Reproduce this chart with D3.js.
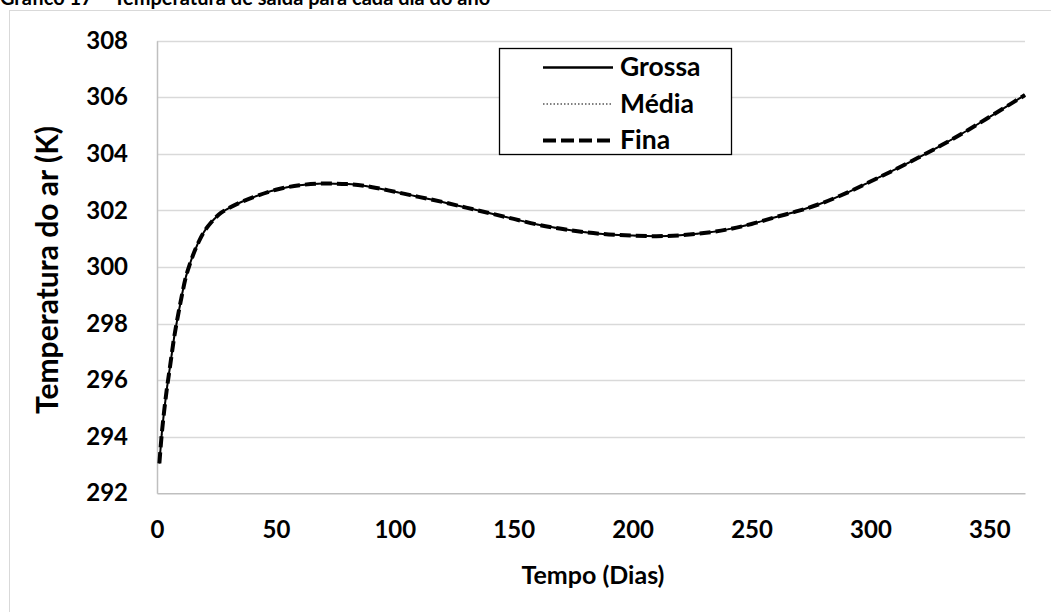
<!DOCTYPE html>
<html>
<head>
<meta charset="utf-8">
<script src="https://cdn.jsdelivr.net/npm/d3@7"></script>
<style>
  html, body { margin: 0; padding: 0; background: #fff; }
  svg { display: block; font-family: Lato, "Open Sans", sans-serif; }
</style>
</head>
<body>
<svg id="chart" width="1051" height="612"></svg>
<script>
// ---- data ----
const days = [1,2,3,4,5,6,7,8,10,12,14,16,18,20,23,27,30,35,40,50,60,70,80,90,100,110,120,130,140,150,160,170,180,190,200,210,220,230,240,250,260,270,280,290,300,310,320,330,340,350,360,365];
const grossa = [293.06,294.1,294.9,295.6,296.2,296.8,297.4,297.9,298.8,299.6,300.15,300.6,300.97,301.27,301.6,301.92,302.07,302.28,302.45,302.73,302.89,302.95,302.93,302.83,302.66,302.48,302.3,302.1,301.9,301.7,301.5,301.35,301.23,301.15,301.11,301.09,301.12,301.2,301.33,301.52,301.76,301.99,302.27,302.62,303.02,303.43,303.86,304.31,304.79,305.3,305.82,306.08];
const media  = [293.06,294.1,294.9,295.6,296.2,296.8,297.4,297.9,298.8,299.6,300.15,300.6,300.97,301.27,301.6,301.92,302.07,302.28,302.45,302.73,302.89,302.95,302.93,302.83,302.66,302.48,302.3,302.1,301.9,301.7,301.5,301.35,301.23,301.15,301.11,301.09,301.12,301.2,301.33,301.52,301.76,301.99,302.27,302.62,303.02,303.43,303.86,304.31,304.79,305.3,305.82,306.08];
const fina   = [293.06,294.1,294.9,295.6,296.2,296.8,297.4,297.9,298.8,299.6,300.15,300.6,300.97,301.27,301.6,301.92,302.07,302.28,302.45,302.73,302.89,302.95,302.93,302.83,302.66,302.48,302.3,302.1,301.9,301.7,301.5,301.35,301.23,301.15,301.11,301.09,301.12,301.2,301.33,301.52,301.76,301.99,302.27,302.62,303.02,303.43,303.86,304.31,304.79,305.3,305.82,306.08];
const seriesNames = ["Grossa", "Média", "Fina"];
const xTicks = [0,50,100,150,200,250,300,350];
const yTicks = [292,294,296,298,300,302,304,306,308];
const titleText = "Gráfico 17 – Temperatura de saída para cada dia do ano";
const xTitle = "Tempo (Dias)";
const yTitle = "Temperatura do ar (K)";

// ---- layout ----
const svg = d3.select("#chart");
const plot = { left: 157, right: 1025, top: 40.7, bottom: 493.3 };
const x = d3.scaleLinear().domain([0, 365]).range([plot.left, plot.right]);
const y = d3.scaleLinear().domain([292, 308]).range([plot.bottom, plot.top]);

// outer chart border
svg.append("rect")
  .attr("x", 9.5).attr("y", 10.5).attr("width", 1100).attr("height", 700)
  .attr("fill", "#fff").attr("stroke", "#d9d9d9").attr("stroke-width", 1);

// title (sits at the very top edge, as in the reference)
svg.append("text")
  .attr("x", 0).attr("y", 5)
  .attr("font-size", 20).attr("font-weight", "bold").attr("fill", "#000")
  .text(titleText);

// gridlines
svg.append("g").selectAll("line").data(yTicks.filter(d => d !== 292)).join("line")
  .attr("x1", plot.left).attr("x2", plot.right)
  .attr("y1", d => Math.round(y(d)) + 0.5).attr("y2", d => Math.round(y(d)) + 0.5)
  .attr("stroke", "#d9d9d9").attr("stroke-width", 1.3);

// axes
const yAxis = svg.append("g").attr("transform", `translate(${plot.left},0)`)
  .call(d3.axisLeft(y).tickValues(yTicks).tickSize(0).tickPadding(29).tickFormat(d3.format("d")));
const xAxis = svg.append("g").attr("transform", `translate(0,${plot.bottom})`)
  .call(d3.axisBottom(x).tickValues(xTicks).tickSize(0).tickPadding(28).tickFormat(d3.format("d")));
[yAxis, xAxis].forEach(g => {
  g.select(".domain").attr("stroke", "#bfbfbf").attr("stroke-width", 1.5);
  g.selectAll("text").attr("font-family", "Lato, sans-serif").attr("font-size", 24)
    .attr("font-weight", "bold").attr("fill", "#000");
});

// axis titles
svg.append("text")
  .attr("x", 593).attr("y", 584).attr("text-anchor", "middle")
  .attr("font-size", 25).attr("font-weight", "bold").text(xTitle);
svg.append("text")
  .attr("transform", "translate(58,270) rotate(-90)").attr("text-anchor", "middle")
  .attr("font-size", 30).attr("font-weight", "bold").text(yTitle);

// lines
const styles = [
  { w: 2, dash: null },
  { w: 1.2, dash: "1.5,2" },
  { w: 4, dash: "11,5" }
];
const allSeries = [grossa, media, fina];
const line = d3.line().x(d => x(d[0])).y(d => y(d[1])).curve(d3.curveMonotoneX);
allSeries.forEach((vals, i) => {
  svg.append("path")
    .datum(days.map((d, j) => [d, vals[j]]))
    .attr("fill", "none").attr("stroke", "#000")
    .attr("stroke-width", styles[i].w)
    .attr("stroke-dasharray", styles[i].dash)
    .attr("d", line);
});

// legend
const lg = svg.append("g");
lg.append("rect").attr("x", 499.5).attr("y", 48.5).attr("width", 232).attr("height", 106)
  .attr("fill", "#fff").attr("stroke", "#000").attr("stroke-width", 1.3);
seriesNames.forEach((name, i) => {
  const yy = 67.5 + i * 36.5;
  lg.append("line").attr("x1", 543).attr("x2", 613).attr("y1", yy).attr("y2", yy)
    .attr("stroke", "#000").attr("stroke-width", i === 0 ? 2.5 : styles[i].w)
    .attr("stroke-dasharray", i === 2 ? "13,5" : styles[i].dash);
  lg.append("text").attr("x", 620).attr("y", yy + 8.5)
    .attr("font-size", 26.5).attr("font-weight", "bold").text(name);
});
</script>
</body>
</html>
